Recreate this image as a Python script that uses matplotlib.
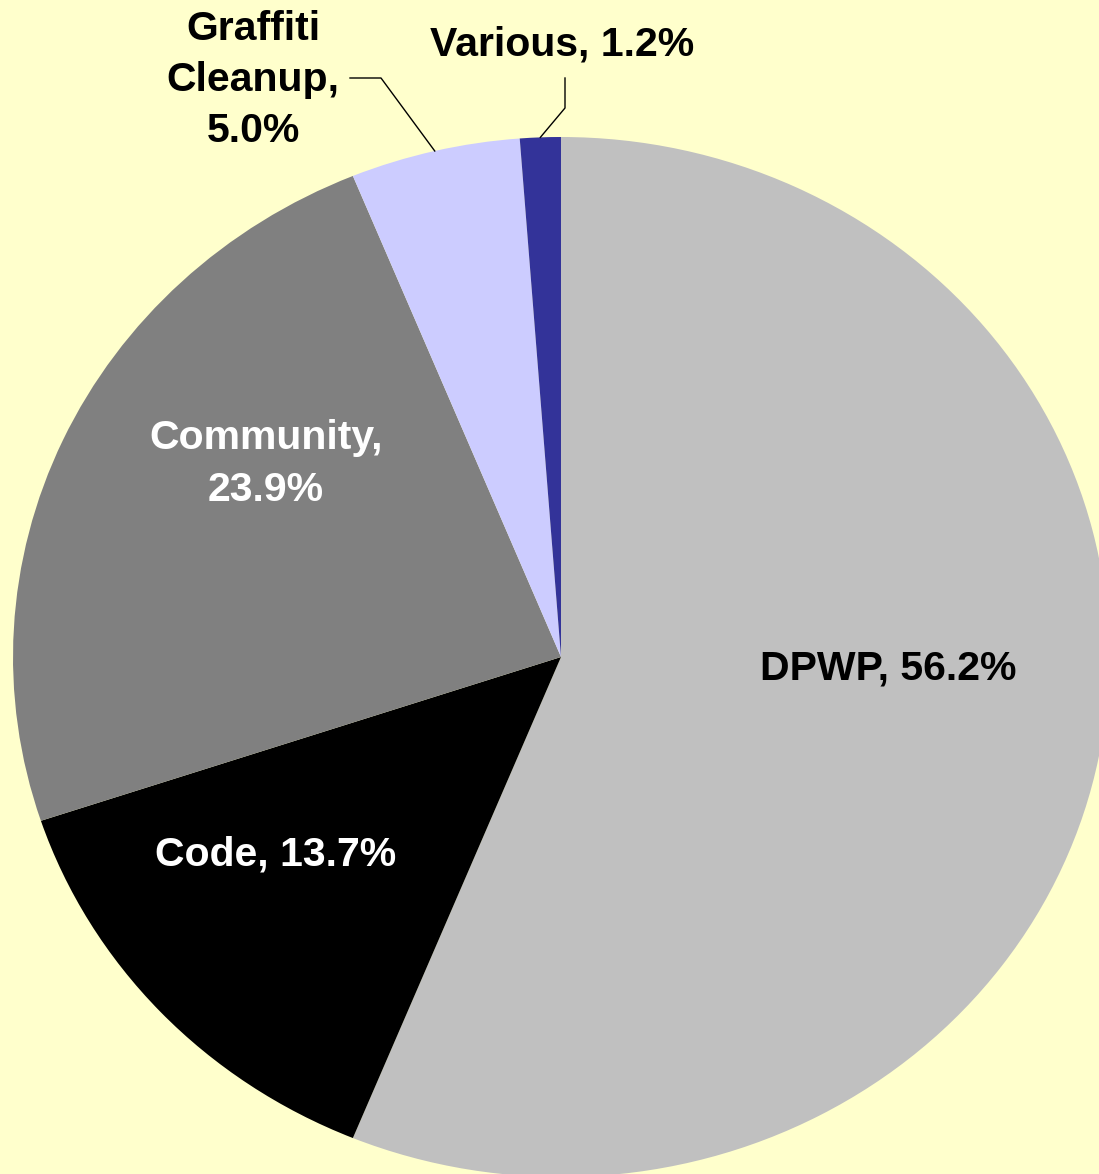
"""Pie chart of funding shares, drawn to match the reference."""

import matplotlib
matplotlib.use('Agg')
import matplotlib.pyplot as plt
import numpy as np

# --- data -------------------------------------------------------------
CATEGORIES = ['DPWP', 'Code', 'Community', 'Graffiti\nCleanup', 'Various']
SHARES = [56.2, 13.7, 23.9, 5.0, 1.2]
COLORS = ['#C0C0C0', '#000000', '#808080', '#CCCCFF', '#333399']
LABELS = ['DPWP, 56.2%', 'Code, 13.7%', 'Community,\n23.9%',
          'Graffiti\nCleanup,\n5.0%', 'Various, 1.2%']
LABEL_COLORS = ['black', 'white', 'white', 'black', 'black']

BG = '#FFFFCC'
W, H = 1099, 1174
CX, CY = 561, 657          # pie centre in pixels (from top-left)
RX, RY = 548, 520          # horizontal / vertical radius in pixels


def px2data(px, py):
    return (px - CX) / RX, (CY - py) / RY


plt.rcParams['font.family'] = ['Liberation Sans', 'DejaVu Sans']

fig = plt.figure(figsize=(W / 100, H / 100), dpi=100, facecolor=BG)
ax = fig.add_axes([0, 0, 1, 1])
ax.set_facecolor(BG)

wedges, _ = ax.pie(SHARES, colors=COLORS, startangle=90, counterclock=False,
                   radius=1.0, wedgeprops=dict(linewidth=0))
ax.set_aspect('auto')
ax.set_xlim(-CX / RX, (W - CX) / RX)
ax.set_ylim(-(H - CY) / RY, CY / RY)
ax.axis('off')

# label centres in pixels
label_px = [(888, 668), (276, 855), (266, 464), (253, 80), (562, 44)]
for lab, col, (px, py) in zip(LABELS, LABEL_COLORS, label_px):
    x, y = px2data(px, py)
    ax.text(x, y, lab, color=col, fontsize=29.5, fontweight='bold',
            ha='center', va='center', linespacing=1.45)

# leader lines for the two thin slices
def mid_angle(i):
    start = 90 - sum(SHARES[:i]) * 3.6
    return np.deg2rad(start - SHARES[i] * 1.8)

for i, pts in [(3, [(350, 78), (381, 78)]), (4, [(565, 78), (565, 108)])]:
    a = mid_angle(i)
    xs = [px2data(*p)[0] for p in pts] + [np.cos(a)]
    ys = [px2data(*p)[1] for p in pts] + [np.sin(a)]
    ax.plot(xs, ys, color='black', linewidth=1)

fig.savefig('out.png', dpi=100, facecolor=BG)
